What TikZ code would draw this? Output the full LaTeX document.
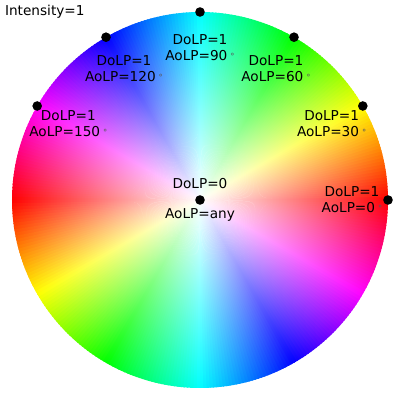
\documentclass[tikz,border=0pt]{standalone}
\usepackage{fontspec}
\setmainfont{DejaVu Sans}
\usetikzlibrary{fadings}
\tikzfading[name=whitefade, inner color=transparent!0, outer color=transparent!100]
\newcommand{\dg}{\hspace{0.22em}\raisebox{0.15ex}{\fontsize{6}{6}\selectfont\color{black!65}°}}
\tikzset{
  lbl/.style={align=center, font=\fontsize{9.7}{11.4}\selectfont, inner sep=0pt, text=black},
  dot/.style={circle, fill=black, minimum size=0.24cm, inner sep=0pt}
}
\begin{document}
\begin{tikzpicture}
\useasboundingbox (-5,-5) rectangle (5,5);
\foreach \a in {0,...,359} {
  \pgfmathsetmacro{\h}{mod(2*\a+1,360)}
  \definecolor{wc}{Hsb}{\h,1,1}
  \fill[wc] (0,0) -- (\a:4.7) arc[start angle=\a, end angle=\a+1.4, radius=4.7cm] -- cycle;
}
\fill[white, path fading=whitefade] (0,0) circle (4.7);
\node[lbl, anchor=west] (title) at (-4.88,4.7) {Intensity=1};
\node[dot] (c) at (0,0) {};
\node[lbl] (c1) at (0,0.42) {DoLP=0};
\node[lbl] (c2) at (0,-0.38) {AoLP=any};
\foreach \t/\n in {0/a0,30/a30,60/a60,90/a90,120/a120,150/a150} {
  \node[dot] (d\n) at (\t:4.7) {};
  \node[lbl] (l\n) at (\t:3.8) {DoLP=1\\AoLP=\t\dg};
}
\end{tikzpicture}
\end{document}
